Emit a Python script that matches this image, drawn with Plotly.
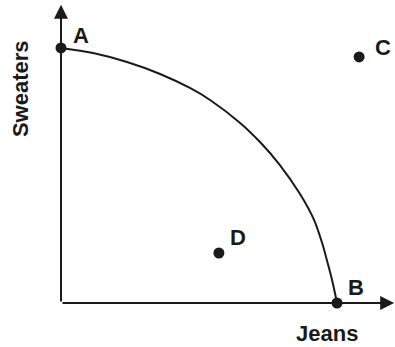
import plotly.graph_objects as go

# production possibilities frontier (jeans, sweaters)
frontier_jeans = [0, 1.16, 2.39, 3.59, 4.67, 5.40, 6.49, 7.21, 7.93, 8.66, 9.17, 9.46, 9.64, 9.82, 10]
frontier_sweaters = [10, 9.80, 9.45, 8.98, 8.43, 7.96, 7.06, 6.31, 5.41, 4.27, 3.25, 2.35, 1.65, 0.90, 0]

point_names = ["A", "B", "C", "D"]
point_jeans = [0, 10, 10.80, 5.72]
point_sweaters = [10, 0, 9.65, 1.96]

# where each letter sits next to its dot
label_jeans = [0.72, 10.68, 11.65, 6.42]
label_sweaters = [10.5, 0.62, 10.0, 2.55]

x_label = "Jeans"
y_label = "Sweaters"

ink = "#1a1a1a"
font = dict(family="Liberation Sans, Arial, sans-serif", size=22, color=ink)

fig = go.Figure()

fig.add_trace(go.Scatter(x=frontier_jeans, y=frontier_sweaters, mode="lines",
                         line=dict(color=ink, width=2, shape="spline", smoothing=0.9),
                         hoverinfo="skip", showlegend=False))

fig.add_trace(go.Scatter(x=point_jeans, y=point_sweaters, mode="markers",
                         marker=dict(color=ink, size=11),
                         text=point_names, hovertemplate="%{text}<extra></extra>",
                         showlegend=False))

# axes drawn as arrows
fig.add_annotation(x=12.07, y=0, ax=0, ay=0, xref="x", yref="y", axref="x", ayref="y",
                   text="", showarrow=True, arrowhead=2, arrowsize=1.4, arrowwidth=2, arrowcolor=ink)
fig.add_annotation(x=0, y=11.69, ax=0, ay=0, xref="x", yref="y", axref="x", ayref="y",
                   text="", showarrow=True, arrowhead=2, arrowsize=1.4, arrowwidth=2, arrowcolor=ink)

for name, lx, ly in zip(point_names, label_jeans, label_sweaters):
    fig.add_annotation(x=lx, y=ly, text="<b>%s</b>" % name, showarrow=False, font=font)

fig.add_annotation(x=9.64, y=-1.18, text="<b>%s</b>" % x_label, showarrow=False, font=font)
fig.add_annotation(x=-1.49, y=8.42, text="<b>%s</b>" % y_label, showarrow=False,
                   textangle=-90, font=font)

fig.update_xaxes(range=[-2.21, 12.10], visible=False, fixedrange=True)
fig.update_yaxes(range=[-1.725, 11.88], visible=False, fixedrange=True)
fig.update_layout(width=395, height=347, margin=dict(l=0, r=0, t=0, b=0),
                  plot_bgcolor="white", paper_bgcolor="white")

# the page's default body margin would push the chart 8px off the window
fig.write_html("out.html", config={"displayModeBar": False},
               post_script="document.body.style.margin = '0';")
